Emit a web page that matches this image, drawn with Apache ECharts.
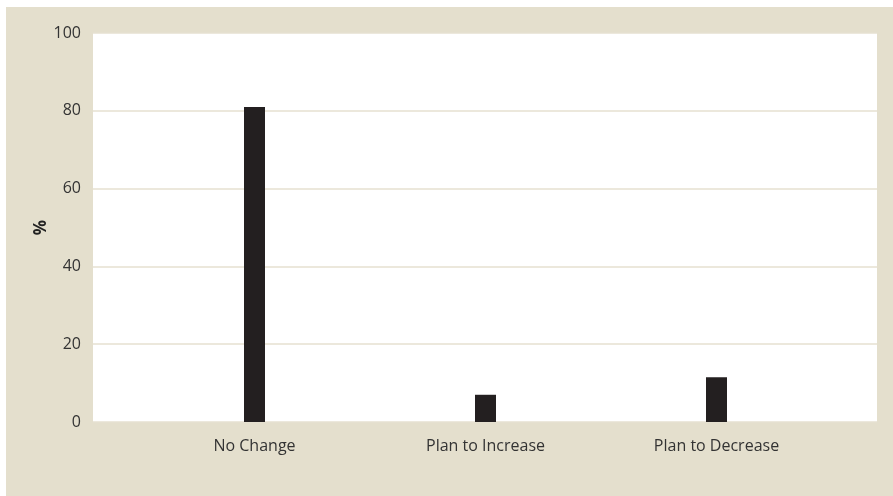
<!DOCTYPE html>
<html>
<head>
<meta charset="utf-8">
<script src="https://cdn.jsdelivr.net/npm/echarts@6/dist/echarts.min.js"></script>
<style>
  html, body { margin: 0; padding: 0; background: #ffffff; }
  #frame { position: absolute; left: 6px; top: 7px; width: 887px; height: 489px; background: #e4dfcd; }
  #chart { width: 887px; height: 489px; }
</style>
</head>
<body>
<div id="frame"><div id="chart"></div></div>
<script>
// Survey responses: share of respondents (%)
const categories = ['No Change', 'Plan to Increase', 'Plan to Decrease'];
const shares = [81, 7, 11.5];
const yTicks = { min: 0, max: 100, step: 20 };

const font = '"Open Sans", "Noto Sans", sans-serif';
const chart = echarts.init(document.getElementById('chart'), null, { renderer: 'canvas' });

chart.setOption({
  animation: false,
  grid: [
    { left: 87, right: 16, top: 26, bottom: 74, show: true, backgroundColor: '#ffffff', borderWidth: 0 },
    { left: 133, right: 61, top: 26, bottom: 74 }
  ],
  xAxis: [
    { gridIndex: 0, type: 'value', show: false, min: 0, max: 1 },
    {
      gridIndex: 1, type: 'category', data: categories,
      axisLine: { show: false }, axisTick: { show: false },
      axisLabel: { color: '#333333', fontSize: 16, fontFamily: font, margin: 16 }
    }
  ],
  yAxis: [
    {
      gridIndex: 0, type: 'value', min: yTicks.min, max: yTicks.max, interval: yTicks.step,
      name: '%', nameLocation: 'middle', nameGap: 43, nameRotate: 90, nameMoveOverlap: false,
      nameTextStyle: { color: '#222222', fontSize: 17, fontWeight: 'bold', fontFamily: font },
      axisLine: { show: false }, axisTick: { show: false },
      axisLabel: { color: '#333333', fontSize: 16, fontFamily: font, margin: 12 },
      splitLine: { lineStyle: { color: '#e6e1d1', width: 1.5 } }
    },
    { gridIndex: 1, type: 'value', min: yTicks.min, max: yTicks.max, show: false, splitLine: { show: false } }
  ],
  series: [{
    type: 'bar',
    xAxisIndex: 1, yAxisIndex: 1,
    data: shares,
    barWidth: 21,
    itemStyle: { color: '#231f20' }
  }]
});
</script>
</body>
</html>
